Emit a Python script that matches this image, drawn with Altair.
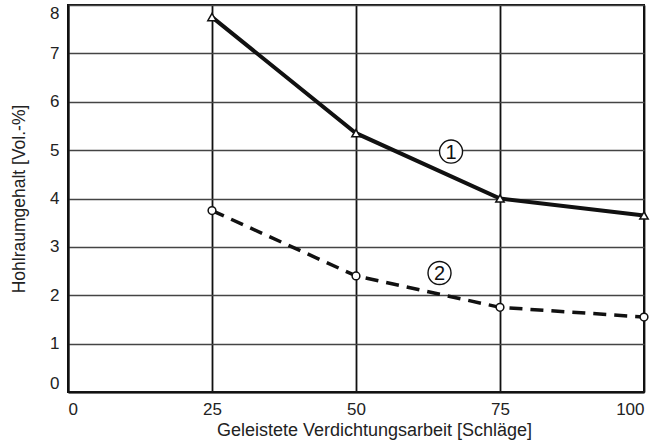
import altair as alt
import pandas as pd

schlaege = [25, 50, 75, 100]
kurve1 = [7.75, 5.35, 4.0, 3.65]
kurve2 = [3.75, 2.4, 1.75, 1.55]
x_ticks = [0, 25, 50, 75, 100]
y_ticks = [0, 1, 2, 3, 4, 5, 6, 7, 8]
label_text = ["1", "2"]
label_x = [66.5, 64.5]
label_y = [4.97, 2.46]

df1 = pd.DataFrame({"x": schlaege, "y": kurve1})
df2 = pd.DataFrame({"x": schlaege, "y": kurve2})
dfl = pd.DataFrame({"x": label_x, "y": label_y, "t": label_text})

FONT = "Liberation Sans"

xs = alt.Scale(domain=[0, 100], nice=False)
ys = alt.Scale(domain=[0, 8], nice=False)

xenc = alt.X("x:Q", scale=xs, axis=alt.Axis(
    values=x_ticks, title="Geleistete Verdichtungsarbeit [Schläge]",
    grid=True, gridColor="#111", gridWidth=1.8, ticks=False,
    domainColor="#111", domainWidth=2, labelPadding=9,
    titleY=43, titleX=306, titleBaseline="alphabetic",
    labelFontSize=17, titleFontSize=18, labelFont=FONT, titleFont=FONT,
    labelColor="#222", titleColor="#222", titleFontWeight="normal"))
yenc = alt.Y("y:Q", scale=ys, axis=alt.Axis(
    values=y_ticks, title="Hohlraumgehalt [Vol.-%]",
    grid=True, gridColor="#444", gridWidth=1.3, ticks=False,
    domainColor="#111", domainWidth=2, labelPadding=9, labelFlush=True,
    titleX=-44, titleBaseline="alphabetic",
    labelFontSize=17, titleFontSize=17.5, labelFont=FONT, titleFont=FONT,
    labelColor="#222", titleColor="#222", titleFontWeight="normal"))

line1 = alt.Chart(df1).mark_line(color="#111", strokeWidth=4).encode(x=xenc, y=yenc)
pts1 = alt.Chart(df1).mark_point(shape="triangle-up", filled=True, fill="white",
                                 stroke="#111", strokeWidth=1.5, size=70, opacity=1).encode(x="x:Q", y="y:Q")
line2 = alt.Chart(df2).mark_line(color="#111", strokeWidth=3.5, strokeDash=[13, 8]).encode(x="x:Q", y="y:Q")
pts2 = alt.Chart(df2).mark_point(shape="circle", filled=True, fill="white",
                                 stroke="#111", strokeWidth=1.5, size=60, opacity=1).encode(x="x:Q", y="y:Q")
circ = alt.Chart(dfl).mark_point(shape="circle", filled=True, fill="white",
                                 stroke="#111", strokeWidth=1.4, size=530, opacity=1).encode(x="x:Q", y="y:Q")
txt = alt.Chart(dfl).mark_text(font=FONT, fontSize=20, color="#111", baseline="middle", align="center", dy=1).encode(
    x="x:Q", y="y:Q", text="t:N")

chart = alt.layer(line1, line2, pts1, pts2, circ, txt).properties(
    width=576, height=387,
    autosize=alt.AutoSizeParams(type="none"),
    padding={"left": 68, "top": 5, "right": 19, "bottom": 53},
    background="white",
).configure_view(stroke="#111", strokeWidth=2)

chart.save("out.html", embed_options={"renderer": "svg", "actions": False})
